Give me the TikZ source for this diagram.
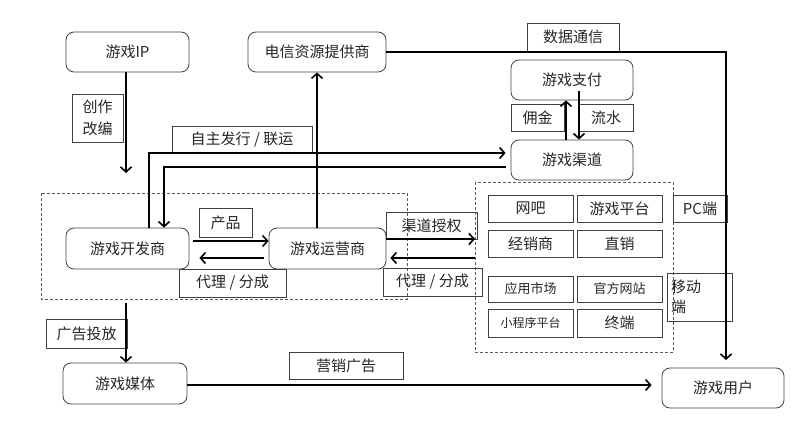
\documentclass[tikz,border=0pt]{standalone}
\usepackage{fontspec}
\setmainfont{Noto Sans CJK SC}
\usetikzlibrary{arrows.meta}
\tikzset{
  rbox/.style={draw=black!75, line width=0.8pt, rounded corners=8pt, inner sep=0pt, font=\fontsize{15}{18}\selectfont, text=black!85},
  lbox/.style={draw=black!75, line width=0.8pt, inner sep=0pt, font=\fontsize{15}{18}\selectfont, text=black!85},
  sbox/.style={lbox, font=\fontsize{13}{16}\selectfont},
  arr/.style={line width=1.6pt, -{Straight Barb[length=5pt,width=11pt,line width=1.6pt]}},
  ln/.style={line width=1.6pt},
  dbox/.style={draw=black!65, line width=0.8pt, dash pattern=on 3pt off 2pt}
}
\begin{document}
\begin{tikzpicture}[x=1pt,y=-1pt]
\useasboundingbox (0,0) rectangle (800,435);
% dashed groups
\draw[dbox] (41,193) rectangle (407,299);
\draw[dbox] (475,182) rectangle (673,352);
% main nodes
\node[rbox, minimum width=123, minimum height=40] (ip) at (127.5,52) {游戏IP};
\node[rbox, minimum width=138, minimum height=40] (tel) at (317,52) {电信资源提供商};
\node[rbox, minimum width=122, minimum height=40] (pay) at (572,80) {游戏支付};
\node[rbox, minimum width=122, minimum height=40] (chan) at (572,160) {游戏渠道};
\node[rbox, minimum width=123, minimum height=41] (dev) at (127.5,248.5) {游戏开发商};
\node[rbox, minimum width=117, minimum height=41] (ops) at (327.5,248.5) {游戏运营商};
\node[rbox, minimum width=124, minimum height=41] (media) at (125,383.5) {游戏媒体};
\node[rbox, minimum width=122, minimum height=40] (user) at (723,388) {游戏用户};
% label boxes
\node[lbox, minimum width=51, minimum height=48, align=center, font=\fontsize{15}{22}\selectfont] (cz) at (97.5,118) {创作\\改编};
\node[lbox, minimum width=92, minimum height=28] (sjtx) at (573,37) {数据通信};
\node[lbox, minimum width=53, minimum height=27] (yj) at (537.5,117.5) {佣金};
\node[lbox, minimum width=54, minimum height=27] (ls) at (606,117.5) {流水};
\node[lbox, minimum width=140, minimum height=27] (zz) at (242,139.5) {自主发行 / 联运};
\node[lbox, minimum width=53, minimum height=29] (cp) at (225.5,222.5) {产品};
\node[lbox, minimum width=107, minimum height=28] (dl1) at (232.5,283) {代理 / 分成};
\node[lbox, minimum width=91, minimum height=27] (qd) at (431.5,225.5) {渠道授权};
\node[lbox, minimum width=99, minimum height=28] (dl2) at (432.5,282) {代理 / 分成};
\node[lbox, minimum width=81, minimum height=29] (gg) at (86.5,333.5) {广告投放};
\node[lbox, minimum width=114, minimum height=27] (yx) at (346,365.5) {营销广告};
% channel grid
\node[lbox, minimum width=85, minimum height=27] (wb) at (530.5,208.5) {网吧};
\node[lbox, minimum width=85, minimum height=27] (yxpt) at (619.5,208.5) {游戏平台};
\node[lbox, minimum width=85, minimum height=27] (jxs) at (530.5,243.5) {经销商};
\node[lbox, minimum width=85, minimum height=27] (zx) at (619.5,243.5) {直销};
\node[sbox, minimum width=85, minimum height=26] (yysc) at (530.5,289) {应用市场};
\node[sbox, minimum width=85, minimum height=26] (gfwz) at (619.5,289) {官方网站};
\node[sbox, minimum width=85, minimum height=28, font=\fontsize{12}{15}\selectfont] (xcx) at (530.5,323) {小程序平台};
\node[lbox, minimum width=85, minimum height=28] (zd) at (619.5,323) {终端};
\node[lbox, minimum width=54, minimum height=27] (pc) at (700,208.5) {PC端};
\node[lbox, minimum width=65, minimum height=48, align=left, text width=57, font=\fontsize{15}{20}\selectfont] (yd) at (699.5,297) {移动\\端};
% free ends
\coordinate (ipend) at (126,173);
\coordinate (userin) at (726,360);
\coordinate (qdR) at (475,239);
\coordinate (qdL) at (475,258);
\coordinate (ggstart) at (126,303);
% connectors
\draw[arr] (ip.south -| ipend) -- (ipend);
\draw[arr] (tel.east) -| (userin);
\draw[arr] (ops.north -| tel.south) -- (tel.south);
\draw[arr, shorten >=5pt] ([xshift=21.5pt]dev.north) |- ([yshift=7pt]chan.west);
\draw[arr, shorten <=5pt] ([yshift=-7pt]chan.west) -| ([xshift=36.5pt]dev.north);
\draw[arr] ([xshift=-6pt]chan.north) -- ([xshift=-6pt]pay.south);
\draw[arr] ([xshift=7pt,yshift=9pt]pay.south) -- ([xshift=7pt]chan.north);
\draw[arr, shorten <=4pt] ([yshift=7.5pt]dev.east) -- ([yshift=7.5pt]ops.west);
\draw[arr, shorten <=5pt, shorten >=10pt] ([yshift=-9.5pt]ops.west) -- ([yshift=-9.5pt]dev.east);
\draw[arr] (ops.east |- qdR) -- (qdR);
\draw[arr, shorten >=4pt] (qdL) -- (ops.east |- qdL);
\draw[arr] (ggstart) -- (media.north -| ggstart);
\draw[arr, shorten >=10pt] ([yshift=-1.5pt]media.east) -- ([yshift=-1.5pt]media.east -| user.west);
\end{tikzpicture}
\end{document}
